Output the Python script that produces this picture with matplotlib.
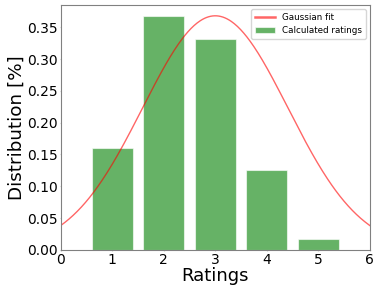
import numpy as np
import matplotlib
matplotlib.use("Agg")
import matplotlib.pyplot as plt

ratings = [1, 2, 3, 4, 5]
distribution = [0.160, 0.368, 0.331, 0.126, 0.017]
fit_mu = 3.0
fit_sigma = 1.41
fit_amp = 0.368
xticks = [0, 1, 2, 3, 4, 5, 6]
yticks = [0, 0.05, 0.10, 0.15, 0.20, 0.25, 0.30, 0.35]

fig = plt.figure(figsize=(3.79, 2.93), dpi=100)
ax = fig.add_axes([0.160, 0.147, 0.816, 0.836])

xs = np.linspace(0, 6, 300)
ys = fit_amp * np.exp(-(xs - fit_mu) ** 2 / (2 * fit_sigma ** 2))
ax.plot(xs, ys, color="red", alpha=0.6, lw=1.0, label="Gaussian fit")
ax.bar(ratings, distribution, width=0.8, color="green", alpha=0.6,
       edgecolor="white", linewidth=0.8, label="Calculated ratings")

ax.set_xlim(0, 6)
ax.set_ylim(0, 0.385)
ax.set_xticks(xticks)
ax.set_yticks(yticks)
ax.tick_params(labelsize=10, length=0.5, pad=1.5, color="#808080")
for s in ax.spines.values():
    s.set_color("#808080")
ax.set_xlabel("Ratings", fontsize=13, labelpad=0)
ax.set_ylabel("Distribution [%]", fontsize=13.2, labelpad=1)
leg = ax.legend(loc="upper right", fontsize=6.3, handlelength=2.3)
leg.get_lines()[0].set_linewidth(1.8)

fig.savefig("out.png", dpi=100)
